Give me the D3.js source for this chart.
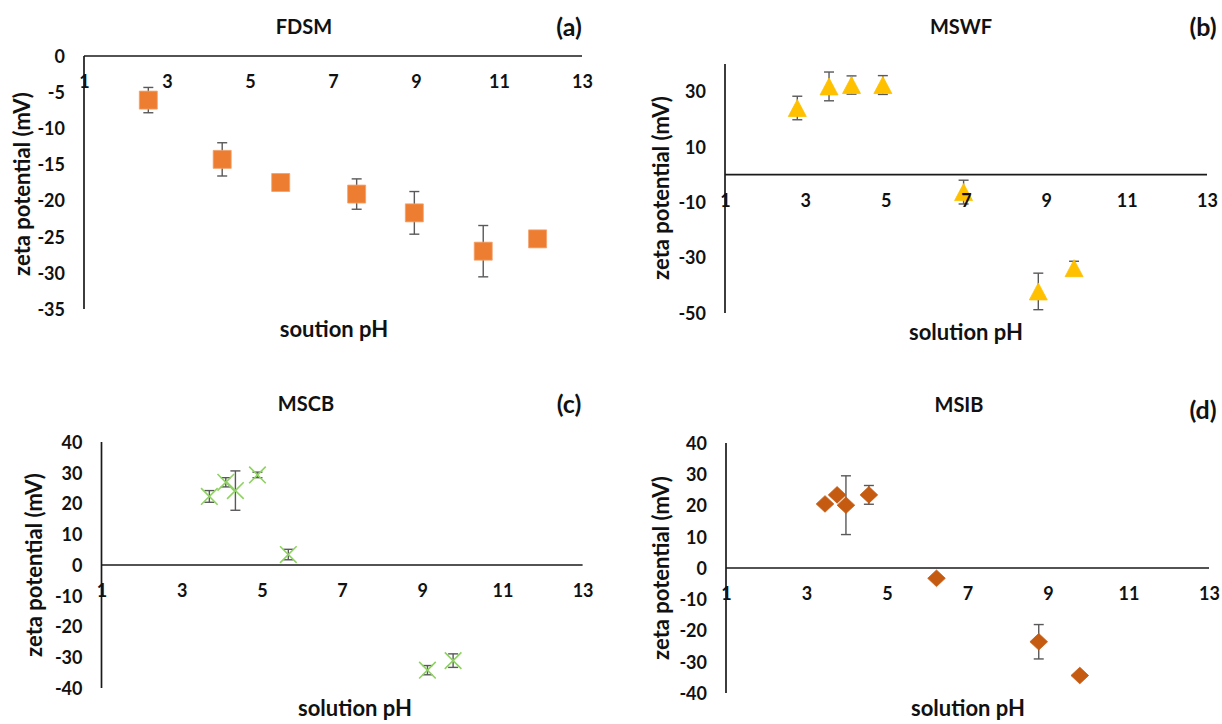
<!DOCTYPE html>
<html>
<head>
<meta charset="utf-8">
<script src="https://cdn.jsdelivr.net/npm/d3@7"></script>
<style>
  html, body { margin: 0; padding: 0; background: #fff; }
  svg { display: block; font-family: Lato, "Open Sans", sans-serif; }
</style>
</head>
<body>
<svg id="chart" width="1222" height="724"></svg>
<script>
// ---------------- DATA ----------------
const xTicks = [1, 3, 5, 7, 9, 11, 13];

// (a) FDSM
const phA   = [2.55, 4.33, 5.74, 7.57, 8.96, 10.62, 11.93];
const zetaA = [-6.1, -14.3, -17.5, -19.1, -21.7, -27.0, -25.3];
const errA  = [1.75, 2.3, 0, 2.1, 2.95, 3.55, 0];
const yTicksA = [0, -5, -10, -15, -20, -25, -30, -35];

// (b) MSWF
const phB   = [2.80, 3.59, 4.15, 4.93, 6.94, 8.80, 9.69];
const zetaB = [24.1, 31.9, 32.4, 32.4, -6.3, -42.2, -33.8];
const errB  = [4.25, 5.2, 3.3, 3.4, 4.3, 6.6, 2.5];
const yTicksB = [30, 10, -10, -30, -50];

// (c) MSCB
const phC   = [3.69, 4.10, 4.34, 4.89, 5.66, 9.13, 9.77];
const zetaC = [22.3, 26.9, 24.2, 29.3, 3.4, -34.2, -31.1];
const errC  = [1.9, 1.5, 6.4, 0.9, 1.7, 1.5, 2.2];
const yTicksC = [40, 30, 20, 10, 0, -10, -20, -30, -40];

// (d) MSIB
const phD   = [3.46, 3.76, 3.98, 4.55, 6.23, 8.77, 9.79];
const zetaD = [20.5, 23.4, 20.1, 23.4, -3.3, -23.6, -34.4];
const errD  = [0, 0, 9.4, 3.0, 0, 5.5, 0];
const yTicksD = [40, 30, 20, 10, 0, -10, -20, -30, -40];

// ---------------- LAYOUT ----------------
const panels = [
  { title: "FDSM", tag: "(a)", xTitle: "soution pH", ph: phA, zeta: zetaA, err: errA, yTicks: yTicksA,
    yDomain: [-35, 0], px: [84, 582], py: [309, 56], marker: "square", color: "#ED7D31",
    titlePos: [304, 27], tagPos: [569, 27], yTitlePos: [22, 184], xTitlePos: [334, 329] },
  { title: "MSWF", tag: "(b)", xTitle: "solution pH", ph: phB, zeta: zetaB, err: errB, yTicks: yTicksB,
    yDomain: [-50, 40], px: [725, 1207], py: [313, 64], marker: "triangle", color: "#FFC000",
    titlePos: [961, 27], tagPos: [1203, 27], yTitlePos: [661, 188], xTitlePos: [966, 332] },
  { title: "MSCB", tag: "(c)", xTitle: "solution pH", ph: phC, zeta: zetaC, err: errC, yTicks: yTicksC,
    yDomain: [-40, 40], px: [101.5, 582.6], py: [688, 442], marker: "x", color: "#8DD35F",
    titlePos: [306, 404], tagPos: [569, 404], yTitlePos: [34, 565], xTitlePos: [355, 708] },
  { title: "MSIB", tag: "(d)", xTitle: "solution pH", ph: phD, zeta: zetaD, err: errD, yTicks: yTicksD,
    yDomain: [-40, 40], px: [726, 1209], py: [693, 443], marker: "diamond", color: "#C55A11",
    titlePos: [959, 405], tagPos: [1203, 410], yTitlePos: [661, 568], xTitlePos: [968, 708] }
];

const svg = d3.select("#chart");
const AXIS = "#1a1a1a";
const ERR = "#595959";

function markerPath(type) {
  if (type === "square") { const s = 9; return `M${-s},${-s}H${s}V${s}H${-s}Z`; }
  if (type === "triangle") { const w = 9, h = 8.5; return `M0,${-h}L${w},${h}L${-w},${h}Z`; }
  if (type === "diamond") { const w = 8.8, h = 8.3; return `M0,${-h}L${w},0L0,${h}L${-w},0Z`; }
  const s = 8.3; return `M${-s},${-s}L${s},${s}M${-s},${s}L${s},${-s}`;
}

const fmt = d => String(d);

panels.forEach(p => {
  const x = d3.scaleLinear().domain([1, 13]).range(p.px);
  const y = d3.scaleLinear().domain(p.yDomain).range(p.py);
  const g = svg.append("g");

  // axis lines
  g.append("line").attr("x1", x(1)).attr("x2", x(1))
    .attr("y1", y(p.yDomain[1])).attr("y2", y(p.yDomain[0]))
    .attr("stroke", AXIS).attr("stroke-width", 1.7);
  g.append("line").attr("x1", x(1)).attr("x2", x(13))
    .attr("y1", y(0)).attr("y2", y(0))
    .attr("stroke", AXIS).attr("stroke-width", 1.7);

  const pts = p.ph.map((v, i) => ({ ph: v, z: p.zeta[i], e: p.err[i] }));

  // error bars
  const eb = g.append("g").attr("stroke", ERR).attr("stroke-width", 1.4).attr("fill", "none");
  pts.filter(d => d.e > 0).forEach(d => {
    const cx = x(d.ph), y1 = y(d.z + d.e), y2 = y(d.z - d.e);
    eb.append("line").attr("x1", cx).attr("x2", cx).attr("y1", y1).attr("y2", y2);
    eb.append("line").attr("x1", cx - 5).attr("x2", cx + 5).attr("y1", y1).attr("y2", y1);
    eb.append("line").attr("x1", cx - 5).attr("x2", cx + 5).attr("y1", y2).attr("y2", y2);
  });

  // markers
  const mk = g.append("g");
  mk.selectAll("path").data(pts).join("path")
    .attr("transform", d => `translate(${x(d.ph)},${y(d.z)})`)
    .attr("d", markerPath(p.marker))
    .attr("fill", p.marker === "x" ? "none" : p.color)
    .attr("stroke", p.marker === "x" ? p.color : (p.marker === "square" ? "#F3A16B" : p.color))
    .attr("stroke-width", p.marker === "x" ? 1.6 : 0.8);

  // tick labels via d3 axes
  const yAx = g.append("g").attr("transform", `translate(${x(1)},0)`)
    .call(d3.axisLeft(y).tickValues(p.yTicks).tickSize(0).tickPadding(19).tickFormat(fmt));
  yAx.select(".domain").remove();
  yAx.selectAll("text").attr("font-size", 18).attr("font-weight", 700)
    .attr("fill", "#111").attr("font-family", "Lato, sans-serif").attr("dy", "0.35em");

  const xAx = g.append("g").attr("transform", `translate(0,${y(0)})`)
    .call(d3.axisBottom(x).tickValues(xTicks).tickSize(0).tickFormat(fmt));
  xAx.select(".domain").remove();
  xAx.selectAll("text").attr("font-size", 18).attr("font-weight", 700)
    .attr("fill", "#111").attr("font-family", "Lato, sans-serif").attr("y", 26).attr("dy", "0.35em");

  // titles
  g.append("text").attr("x", p.titlePos[0]).attr("y", p.titlePos[1]).attr("dy", "0.35em")
    .attr("text-anchor", "middle").attr("font-size", 20).attr("font-weight", 700).attr("fill", "#111")
    .text(p.title);
  g.append("text").attr("x", p.tagPos[0]).attr("y", p.tagPos[1]).attr("dy", "0.35em")
    .attr("text-anchor", "middle").attr("font-size", 25).attr("font-weight", 700).attr("fill", "#111")
    .text(p.tag);
  g.append("text").attr("transform", `translate(${p.yTitlePos[0]},${p.yTitlePos[1]}) rotate(-90)`)
    .attr("dy", "0.35em").attr("text-anchor", "middle").attr("font-size", 22).attr("font-weight", 700)
    .attr("fill", "#111").text("zeta potential (mV)");
  g.append("text").attr("x", p.xTitlePos[0]).attr("y", p.xTitlePos[1]).attr("dy", "0.35em")
    .attr("text-anchor", "middle").attr("font-size", 22).attr("font-weight", 700).attr("fill", "#111")
    .text(p.xTitle);
});
</script>
</body>
</html>
